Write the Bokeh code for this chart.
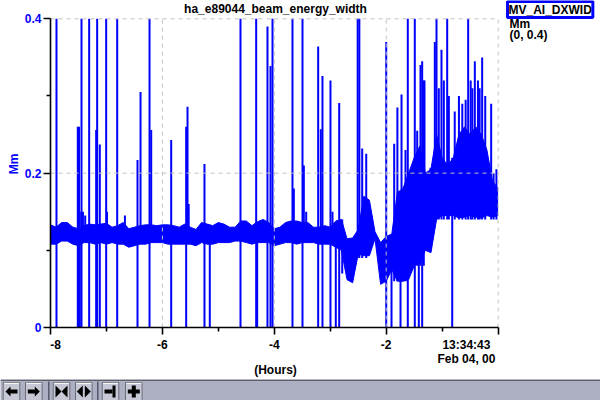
from bokeh.plotting import figure
from bokeh.models import Range1d, FixedTicker, Label
from bokeh.layouts import column, row
from bokeh.embed import file_html
from bokeh.resources import INLINE

# ---------------- data ----------------
title_text = "ha_e89044_beam_energy_width"
signal_name = "MV_AI_DXWID"
unit_text = "Mm"
range_text = "(0, 0.4)"
x_axis_text = "(Hours)"
end_time = "13:34:43"
end_date = "Feb 04, 00"
x_ticks = [-8, -6, -4, -2, 0]
x_tick_labels = ["-8", "-6", "-4", "-2", ""]
x_minor = [-7, -5, -3, -1]
y_ticks = [0, 0.2, 0.4]
y_tick_labels = ["0", "0.2", "0.4"]
y_minor = [0.1, 0.3]

band_x = [-8.0, -7.9, -7.8, -7.7, -7.6, -7.5, -7.4, -7.3, -7.2, -7.1,
          -7.0, -6.9, -6.8, -6.7, -6.6, -6.5, -6.4, -6.3, -6.2, -6.1,
          -6.0, -5.9, -5.8, -5.7, -5.6, -5.5, -5.4, -5.3, -5.2, -5.1,
          -5.0, -4.9, -4.8, -4.7, -4.6, -4.5, -4.4, -4.3, -4.2, -4.1,
          -4.0, -3.9, -3.8, -3.7, -3.6, -3.5, -3.4, -3.3, -3.2, -3.1,
          -3.0, -2.9, -2.8, -2.7, -2.6, -2.5, -2.4, -2.3, -2.2, -2.1,
          -2.0, -1.9, -1.8, -1.7, -1.6, -1.5, -1.4, -1.3, -1.2, -1.1,
          -1.0, -0.9, -0.8, -0.7, -0.6, -0.5, -0.4, -0.3, -0.2, -0.1, 0.0]
band_lo = [0.108, 0.108, 0.112, 0.112, 0.108, 0.106, 0.110, 0.110, 0.108, 0.110,
           0.108, 0.110, 0.108, 0.108, 0.104, 0.106, 0.108, 0.108, 0.110, 0.110,
           0.110, 0.108, 0.108, 0.108, 0.108, 0.108, 0.106, 0.110, 0.108, 0.108,
           0.110, 0.110, 0.110, 0.112, 0.112, 0.110, 0.108, 0.110, 0.110, 0.110,
           0.106, 0.108, 0.110, 0.110, 0.108, 0.110, 0.110, 0.110, 0.108, 0.108,
           0.108, 0.104, 0.100, 0.062, 0.058, 0.095, 0.093, 0.093, 0.115, 0.056,
           0.060, 0.075, 0.060, 0.060, 0.062, 0.080, 0.083, 0.100, 0.097, 0.140,
           0.145, 0.145, 0.145, 0.142, 0.143, 0.145, 0.143, 0.142, 0.145, 0.143, 0.145]
band_hi = [0.133, 0.130, 0.136, 0.136, 0.130, 0.128, 0.132, 0.134, 0.133, 0.134,
           0.135, 0.130, 0.132, 0.136, 0.128, 0.130, 0.132, 0.133, 0.133, 0.132,
           0.133, 0.133, 0.132, 0.130, 0.134, 0.130, 0.127, 0.136, 0.134, 0.132,
           0.136, 0.134, 0.130, 0.130, 0.138, 0.138, 0.132, 0.137, 0.140, 0.136,
           0.128, 0.130, 0.136, 0.138, 0.138, 0.136, 0.136, 0.130, 0.130, 0.132,
           0.130, 0.138, 0.140, 0.115, 0.116, 0.127, 0.170, 0.165, 0.124, 0.110,
           0.118, 0.121, 0.175, 0.180, 0.200, 0.220, 0.235, 0.200, 0.205, 0.250,
           0.220, 0.210, 0.220, 0.250, 0.260, 0.250, 0.260, 0.250, 0.230, 0.190, 0.180]

spike_x = [-7.893, -7.512, -7.490, -7.476, -7.446, -7.420, -7.380, -7.309, -7.184, -7.166,
           -7.119, -7.005, -6.990, -6.808, -6.670, -6.445, -6.391, -6.230, -6.200, -5.843,
           -5.575, -5.551, -5.530, -5.248, -5.153, -4.604, -4.324, -4.306, -4.122, -4.068,
           -4.032, -3.675, -3.651, -3.496, -3.472, -3.430, -3.216, -3.169, -3.139, -2.996,
           -2.960, -2.901, -2.840, -2.786, -2.510, -2.480, -2.429, -2.357, -2.000, -1.905,
           -1.857, -1.800, -1.744, -1.726, -1.655, -1.614, -1.489, -1.446, -1.417, -1.387,
           -1.357, -1.328, -1.316, -1.208, -1.131, -1.101, -1.060, -1.012, -0.970, -0.910,
           -0.880, -0.820, -0.775, -0.700, -0.640, -0.580, -0.535, -0.490, -0.460, -0.416,
           -0.360, -0.330, -0.285, -0.230, -0.124, -0.080, -0.030]
spike_lo = [0, 0, 0, 0, 0, 0.12, 0.12, 0, 0, 0,
            0, 0, 0.12, 0, 0.12, 0, 0.11, 0, 0.11, 0,
            0, 0.11, 0.11, 0, 0, 0, 0, 0, 0, 0,
            0, 0, 0.11, 0, 0.11, 0.11, 0, 0.11, 0, 0,
            0.11, 0, 0, 0.07, 0.09, 0.09, 0.09, 0.09, 0, 0,
            0.06, 0.06, 0, 0.06, 0.06, 0, 0, 0.08, 0, 0.08,
            0, 0.08, 0.10, 0.10, 0.14, 0.14, 0.14, 0.14, 0.14, 0.14,
            0.14, 0, 0.14, 0.14, 0.14, 0.14, 0.14, 0.14, 0.14, 0.14,
            0.14, 0.14, 0.14, 0.14, 0.14, 0.14, 0.14]
# 0.4 = the spike runs off the top of the 0..0.4 display range
spike_hi = [0.4, 0.26, 0.26, 0.15, 0.4, 0.15, 0.145, 0.4, 0.256, 0.4,
            0.237, 0.4, 0.15, 0.4, 0.145, 0.217, 0.305, 0.4, 0.256, 0.243,
            0.26, 0.286, 0.16, 0.212, 0.13, 0.4, 0.4, 0.13, 0.39, 0.339,
            0.4, 0.4, 0.18, 0.4, 0.21, 0.15, 0.364, 0.257, 0.326, 0.32,
            0.15, 0.13, 0.291, 0.14, 0.4, 0.4, 0.232, 0.225, 0.37, 0.12,
            0.238, 0.285, 0.10, 0.302, 0.23, 0.4, 0.4, 0.255, 0.10, 0.34,
            0.345, 0.32, 0.32, 0.207, 0.37, 0.4, 0.31, 0.36, 0.32, 0.4,
            0.30, 0.22, 0.28, 0.30, 0.29, 0.295, 0.4, 0.32, 0.31, 0.345,
            0.32, 0.31, 0.35, 0.30, 0.29, 0.20, 0.205]

# ---------------- layout constants ----------------
FONT = "Liberation Sans"
BLUE = "#0000ff"
NB = "\u00a0"
W, H = 600, 400
FL, FW, FH = 50, 550, 327          # frame: left edge, width, height (top at 0)
BOT = 50                           # space for the x axis
TB_H = 22                          # button bar
PX_PER_H = 55.95                   # pixels per hour
PX_PER_Y = 308.7 / 0.4             # pixels per Mm
X0 = x_ticks[0]
Y0 = y_ticks[0]
X1 = X0 + FW / PX_PER_H
Y1 = Y0 + FH / PX_PER_Y


def dx(px):
    return X0 + (px - FL) / PX_PER_H


def dy(py):
    return Y0 + (FH - py) / PX_PER_Y


p = figure(frame_width=FW, frame_height=FH,
           min_border_left=FL, min_border_top=0, min_border_right=0, min_border_bottom=BOT,
           x_range=Range1d(X0, X1), y_range=Range1d(Y0, Y1),
           output_backend="svg", toolbar_location=None, title=None)
p.outline_line_color = None
p.background_fill_color = "white"
p.border_fill_color = "white"
p.grid.visible = False

# data
p.varea(x=band_x, y1=band_lo, y2=band_hi, fill_color=BLUE)
p.line(x=band_x, y=band_lo, line_color=BLUE, line_width=1)
p.line(x=band_x, y=band_hi, line_color=BLUE, line_width=1)
p.segment(x0=spike_x, y0=spike_lo, x1=spike_x, y1=spike_hi, line_color=BLUE, line_width=2)

# dashed grid, drawn over the data and limited to the axes' extent
p.segment(x0=x_ticks, y0=[y_ticks[0]] * len(x_ticks), x1=x_ticks, y1=[y_ticks[-1]] * len(x_ticks),
          line_color="#c0c0c0", line_dash="4 4", line_width=1)
p.segment(x0=[x_ticks[0]] * len(y_ticks), y0=y_ticks, x1=[x_ticks[-1]] * len(y_ticks), y1=y_ticks,
          line_color="#c0c0c0", line_dash="4 4", line_width=1)

# axes
p.xaxis.bounds = (x_ticks[0], x_ticks[-1])
p.yaxis.bounds = (y_ticks[0], y_ticks[-1])
p.xaxis.ticker = FixedTicker(ticks=x_ticks, minor_ticks=x_minor)
p.yaxis.ticker = FixedTicker(ticks=y_ticks, minor_ticks=y_minor)
xl = dict(zip(x_ticks, x_tick_labels))
xl[x_ticks[0]] = NB * 3 + xl[x_ticks[0]]                        # first label starts at its tick
xl[x_ticks[-1]] = end_time + NB * 19 + "\n" + end_date + NB * 19  # last one ends at its tick
p.xaxis.major_label_overrides = xl
p.yaxis.major_label_overrides = dict(zip(y_ticks, y_tick_labels))
for ax in (p.xaxis, p.yaxis):
    ax.axis_line_color = "black"
    ax.axis_line_width = 1.6
    ax.major_tick_line_color = "black"
    ax.minor_tick_line_color = "black"
    ax.major_tick_line_width = 1.6
    ax.minor_tick_line_width = 1.6
    ax.major_tick_in = 0
    ax.minor_tick_in = 0
    ax.major_tick_out = 7
    ax.minor_tick_out = 4
    ax.major_label_text_font = FONT
    ax.major_label_text_font_style = "bold"
    ax.major_label_text_font_size = "12px"
    ax.axis_label_text_font = FONT
    ax.axis_label_text_font_style = "bold"
    ax.axis_label_text_font_size = "12px"
p.xaxis.major_label_text_color = "black"
p.xaxis.major_label_standoff = 3
p.xaxis.major_label_text_line_height = 1.0
p.xaxis.axis_label = x_axis_text + NB * 30       # centred under the axis, not the frame
p.xaxis.axis_label_text_color = "black"
p.xaxis.axis_label_standoff = -6
p.xaxis.axis_label_text_line_height = 1.0
p.yaxis.major_label_text_color = BLUE
p.yaxis.major_label_standoff = 2
p.yaxis.axis_label = unit_text
p.yaxis.axis_label_text_color = BLUE
p.yaxis.axis_label_standoff = 1


def lab(text, px, py, align="left", baseline="top", **kw):
    p.add_layout(Label(x=dx(px), y=dy(py), text=text, text_align=align, text_baseline=baseline,
                       text_color="black", text_font=FONT, text_font_style="bold",
                       text_font_size="12px", **kw))


lab(title_text, 275, 1, align="center")
lab(signal_name, 507, 1, background_fill_color="white", border_line_color=BLUE,
    border_line_width=3, padding=1)
lab(unit_text, 509, 16)
lab(range_text, 509, 27)

# ---------------- button bar ----------------
tb = figure(width=W, height=TB_H, x_range=Range1d(0, W), y_range=Range1d(TB_H, 0),
            x_axis_type=None, y_axis_type=None,
            output_backend="svg", toolbar_location=None, title=None, min_border=0)
tb.grid.visible = False
tb.outline_line_color = None
tb.background_fill_color = "#adb0c3"
tb.border_fill_color = "#adb0c3"
tb.quad(left=[0], right=[W], top=[0], bottom=[1.5], fill_color="#5c5e6a", line_color=None)

btn_left = [2.7, 25, 52.7, 75, 101.7, 125]
btn_w = 16.6
seps = [48.3, 97.3]
tb.quad(left=btn_left, right=[b + btn_w for b in btn_left], top=[3] * 6, bottom=[21] * 6,
        fill_color="#c6c8d5", line_color="#6b6d7a", line_width=1)
tb.segment(x0=[b + 0.8 for b in btn_left], y0=[3.8] * 6, x1=[b + btn_w - 0.8 for b in btn_left],
           y1=[3.8] * 6, line_color="white", line_width=1)
tb.segment(x0=seps, y0=[2] * 2, x1=seps, y1=[TB_H] * 2, line_color="#55576a", line_width=1.5)

shapes = [
    [[(-6, 0), (-1, -5), (-1, -2), (6, -2), (6, 2), (-1, 2), (-1, 5)]],
    [[(6, 0), (1, -5), (1, -2), (-6, -2), (-6, 2), (1, 2), (1, 5)]],
    [[(-6, -6), (0, 0), (-6, 6)], [(6, -6), (0, 0), (6, 6)]],
    [[(-1, -6), (-7, 0), (-1, 6)], [(1, -6), (7, 0), (1, 6)]],
    [[(-6, -2), (2, -2), (2, 2), (-6, 2)], [(2, -6), (5, -6), (5, 6), (2, 6)]],
    [[(-6, -2), (6, -2), (6, 2), (-6, 2)], [(-2, -6), (2, -6), (2, 6), (-2, 6)]],
]
xs, ys = [], []
for b, shp in zip(btn_left, shapes):
    cx, cy = b + btn_w / 2, 12
    for poly in shp:
        xs.append([cx + a for a, _ in poly])
        ys.append([cy + c for _, c in poly])
tb.patches(xs=xs, ys=ys, fill_color="black", line_color=None)

# wrap each plot in its own row so the column does not line up their frames
layout = column(row(p), row(tb), spacing=0)
open("out.html", "w").write(file_html(layout, INLINE))
